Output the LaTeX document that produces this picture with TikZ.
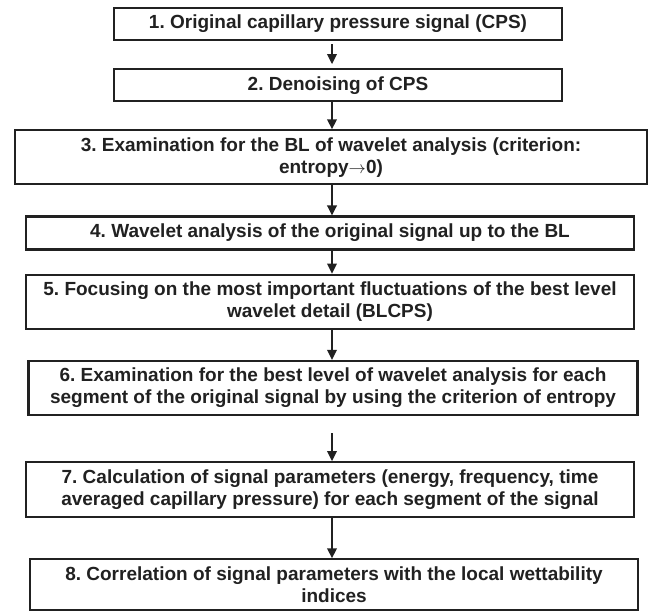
\documentclass[tikz,border=0pt]{standalone}
\usepackage{fontspec}
\setmainfont{Liberation Sans}
\usetikzlibrary{arrows.meta,positioning}
\definecolor{flowink}{gray}{0.13}

\begin{document}
\frenchspacing
\begin{tikzpicture}[
    x=1pt, y=1pt,
    font=\bfseries\fontsize{19}{22}\selectfont,
    node distance=27pt,
    stage/.style={rectangle, draw=flowink, text=flowink, fill=white, line width=2.2pt,
        align=center, minimum width=608pt, minimum height=33pt, inner sep=2pt},
    twoline/.style={stage, minimum height=54pt},
    arrow/.style={-{Triangle[length=10pt,width=9.5pt]}, draw=flowink, line width=1.8pt}
]
    \useasboundingbox (0,0) rectangle (649,-612);
    \coordinate (axis) at (332,0);

    \node[stage, minimum width=448pt, minimum height=32pt] (original) at (338,-24) {1. Original capillary pressure signal (CPS)};
    \node[stage, minimum width=448pt, minimum height=32pt, below=of original] (denoise) {2. Denoising of CPS};
    \node[twoline, minimum width=632pt, below=27pt of denoise, xshift=-7pt] (bestlevel) {3. Examination for the BL of wavelet analysis (criterion:\\entropy$\rightarrow$0)};
    \node[stage, below=30pt of bestlevel, xshift=-1pt] (analysis) {4. Wavelet analysis of the original signal up to the BL};
    \node[twoline, below=23pt of analysis] (focus) {5. Focusing on the most important fluctuations of the best level\\wavelet detail (BLCPS)};
    \node[twoline, minimum width=609pt, below=30pt of focus, xshift=3pt] (segments) {6. Examination for the best level of wavelet analysis for each\\segment of the original signal by using the criterion of entropy};
    \node[twoline, minimum height=55pt, below=45pt of segments, xshift=-3pt] (params) {7. Calculation of signal parameters (energy, frequency, time\\averaged capillary pressure) for each segment of the signal};
    \node[twoline, minimum height=51pt, below=40pt of params, xshift=4pt] (wettability) {8. Correlation of signal parameters with the local wettability\\indices};

    \draw[arrow, shorten <=3pt, shorten >=4pt] (original.south -| axis) -- (denoise.north -| axis);
    \draw[arrow] (denoise.south -| axis) -- (bestlevel.north -| axis);
    \draw[arrow] (bestlevel.south -| axis) -- (analysis.north -| axis);
    \draw[arrow] (analysis.south -| axis) -- (focus.north -| axis);
    \draw[arrow] (focus.south -| axis) -- (segments.north -| axis);
    \draw[arrow, shorten <=17pt] (segments.south -| axis) -- (params.north -| axis);
    \draw[arrow] (params.south -| axis) -- (wettability.north -| axis);
\end{tikzpicture}
\end{document}
